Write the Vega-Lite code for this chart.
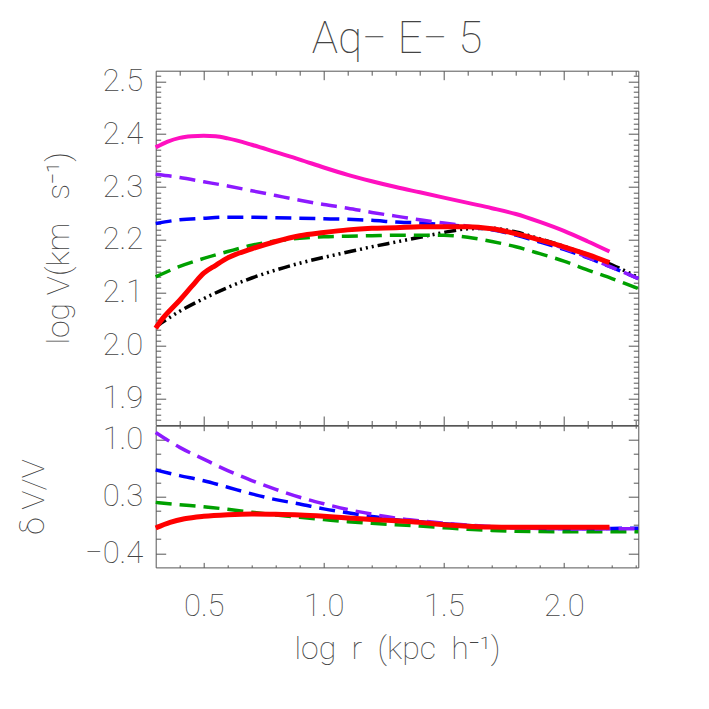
{
  "$schema": "https://vega.github.io/schema/vega-lite/v6.json",
  "autosize": {"type": "none"},
  "padding": {"left": 155.7, "top": 70.7, "right": 553.3, "bottom": 638.3},
  "background": "white",
  "bounds": "flush",
  "spacing": 0,
  "config": {
    "view": {"stroke": "#555", "strokeWidth": 1},
    "axis": {"grid": false, "domain": false, "labelFont": "Roboto", "labelFontSize": 31, "labelFontWeight": 100, "labelColor": "#444", "titleFont": "Roboto", "titleFontSize": 32, "titleFontWeight": 100, "titleColor": "#444", "tickColor": "#555", "tickWidth": 1, "labelFlush": false, "labelOverlap": false, "labelBound": false},
    "line": {"interpolate": "monotone", "clip": true}
  },
  "datasets": {
    "top": [
      {"s": "m", "x": 0.30, "y": 2.375}, {"s": "m", "x": 0.35, "y": 2.386}, {"s": "m", "x": 0.40, "y": 2.393}, {"s": "m", "x": 0.45, "y": 2.396}, {"s": "m", "x": 0.50, "y": 2.397}, {"s": "m", "x": 0.55, "y": 2.396}, {"s": "m", "x": 0.60, "y": 2.392}, {"s": "m", "x": 0.70, "y": 2.380}, {"s": "m", "x": 0.80, "y": 2.366}, {"s": "m", "x": 0.90, "y": 2.352}, {"s": "m", "x": 1.00, "y": 2.337}, {"s": "m", "x": 1.10, "y": 2.323}, {"s": "m", "x": 1.20, "y": 2.311}, {"s": "m", "x": 1.30, "y": 2.300}, {"s": "m", "x": 1.40, "y": 2.290}, {"s": "m", "x": 1.50, "y": 2.280}, {"s": "m", "x": 1.60, "y": 2.270}, {"s": "m", "x": 1.70, "y": 2.260}, {"s": "m", "x": 1.80, "y": 2.249}, {"s": "m", "x": 1.90, "y": 2.234}, {"s": "m", "x": 2.00, "y": 2.217}, {"s": "m", "x": 2.10, "y": 2.197}, {"s": "m", "x": 2.19, "y": 2.178},
      {"s": "p", "x": 0.30, "y": 2.324}, {"s": "p", "x": 0.40, "y": 2.318}, {"s": "p", "x": 0.50, "y": 2.310}, {"s": "p", "x": 0.60, "y": 2.302}, {"s": "p", "x": 0.70, "y": 2.293}, {"s": "p", "x": 0.80, "y": 2.284}, {"s": "p", "x": 0.90, "y": 2.275}, {"s": "p", "x": 1.00, "y": 2.267}, {"s": "p", "x": 1.10, "y": 2.260}, {"s": "p", "x": 1.20, "y": 2.252}, {"s": "p", "x": 1.30, "y": 2.245}, {"s": "p", "x": 1.40, "y": 2.238}, {"s": "p", "x": 1.50, "y": 2.232}, {"s": "p", "x": 1.60, "y": 2.226}, {"s": "p", "x": 1.70, "y": 2.220}, {"s": "p", "x": 1.80, "y": 2.211}, {"s": "p", "x": 1.90, "y": 2.199}, {"s": "p", "x": 2.00, "y": 2.184}, {"s": "p", "x": 2.10, "y": 2.167}, {"s": "p", "x": 2.20, "y": 2.148}, {"s": "p", "x": 2.31, "y": 2.127},
      {"s": "b", "x": 0.30, "y": 2.231}, {"s": "b", "x": 0.40, "y": 2.238}, {"s": "b", "x": 0.50, "y": 2.241}, {"s": "b", "x": 0.60, "y": 2.243}, {"s": "b", "x": 0.70, "y": 2.243}, {"s": "b", "x": 0.80, "y": 2.242}, {"s": "b", "x": 0.90, "y": 2.241}, {"s": "b", "x": 1.00, "y": 2.240}, {"s": "b", "x": 1.10, "y": 2.239}, {"s": "b", "x": 1.20, "y": 2.237}, {"s": "b", "x": 1.30, "y": 2.234}, {"s": "b", "x": 1.40, "y": 2.232}, {"s": "b", "x": 1.50, "y": 2.229}, {"s": "b", "x": 1.60, "y": 2.225}, {"s": "b", "x": 1.70, "y": 2.219}, {"s": "b", "x": 1.80, "y": 2.209}, {"s": "b", "x": 1.90, "y": 2.196}, {"s": "b", "x": 2.00, "y": 2.182}, {"s": "b", "x": 2.10, "y": 2.166}, {"s": "b", "x": 2.20, "y": 2.148}, {"s": "b", "x": 2.31, "y": 2.127},
      {"s": "g", "x": 0.30, "y": 2.130}, {"s": "g", "x": 0.40, "y": 2.150}, {"s": "g", "x": 0.50, "y": 2.165}, {"s": "g", "x": 0.60, "y": 2.178}, {"s": "g", "x": 0.70, "y": 2.190}, {"s": "g", "x": 0.80, "y": 2.198}, {"s": "g", "x": 0.90, "y": 2.203}, {"s": "g", "x": 1.00, "y": 2.206}, {"s": "g", "x": 1.10, "y": 2.207}, {"s": "g", "x": 1.20, "y": 2.208}, {"s": "g", "x": 1.30, "y": 2.209}, {"s": "g", "x": 1.40, "y": 2.209}, {"s": "g", "x": 1.50, "y": 2.209}, {"s": "g", "x": 1.60, "y": 2.205}, {"s": "g", "x": 1.70, "y": 2.197}, {"s": "g", "x": 1.80, "y": 2.187}, {"s": "g", "x": 1.90, "y": 2.174}, {"s": "g", "x": 2.00, "y": 2.160}, {"s": "g", "x": 2.10, "y": 2.143}, {"s": "g", "x": 2.20, "y": 2.127}, {"s": "g", "x": 2.31, "y": 2.108},
      {"s": "r", "x": 0.30, "y": 2.033}, {"s": "r", "x": 0.33, "y": 2.052}, {"s": "r", "x": 0.36, "y": 2.067}, {"s": "r", "x": 0.40, "y": 2.086}, {"s": "r", "x": 0.45, "y": 2.112}, {"s": "r", "x": 0.50, "y": 2.137}, {"s": "r", "x": 0.55, "y": 2.152}, {"s": "r", "x": 0.60, "y": 2.166}, {"s": "r", "x": 0.70, "y": 2.183}, {"s": "r", "x": 0.80, "y": 2.197}, {"s": "r", "x": 0.90, "y": 2.208}, {"s": "r", "x": 1.00, "y": 2.214}, {"s": "r", "x": 1.10, "y": 2.219}, {"s": "r", "x": 1.20, "y": 2.222}, {"s": "r", "x": 1.30, "y": 2.223}, {"s": "r", "x": 1.40, "y": 2.225}, {"s": "r", "x": 1.50, "y": 2.225}, {"s": "r", "x": 1.60, "y": 2.225}, {"s": "r", "x": 1.70, "y": 2.221}, {"s": "r", "x": 1.80, "y": 2.212}, {"s": "r", "x": 1.90, "y": 2.200}, {"s": "r", "x": 2.00, "y": 2.187}, {"s": "r", "x": 2.10, "y": 2.172}, {"s": "r", "x": 2.19, "y": 2.157},
      {"s": "k", "x": 0.30, "y": 2.036}, {"s": "k", "x": 0.40, "y": 2.065}, {"s": "k", "x": 0.50, "y": 2.089}, {"s": "k", "x": 0.60, "y": 2.110}, {"s": "k", "x": 0.70, "y": 2.128}, {"s": "k", "x": 0.80, "y": 2.143}, {"s": "k", "x": 0.90, "y": 2.156}, {"s": "k", "x": 1.00, "y": 2.167}, {"s": "k", "x": 1.10, "y": 2.177}, {"s": "k", "x": 1.20, "y": 2.187}, {"s": "k", "x": 1.30, "y": 2.196}, {"s": "k", "x": 1.40, "y": 2.205}, {"s": "k", "x": 1.50, "y": 2.214}, {"s": "k", "x": 1.60, "y": 2.221}, {"s": "k", "x": 1.70, "y": 2.222}, {"s": "k", "x": 1.80, "y": 2.215}, {"s": "k", "x": 1.90, "y": 2.202}, {"s": "k", "x": 2.00, "y": 2.188}, {"s": "k", "x": 2.10, "y": 2.172}, {"s": "k", "x": 2.20, "y": 2.153}, {"s": "k", "x": 2.31, "y": 2.129}
    ],
    "bot": [
      {"s": "p", "x": 0.30, "y": 1.092}, {"s": "p", "x": 0.40, "y": 0.907}, {"s": "p", "x": 0.50, "y": 0.762}, {"s": "p", "x": 0.60, "y": 0.621}, {"s": "p", "x": 0.70, "y": 0.498}, {"s": "p", "x": 0.80, "y": 0.389}, {"s": "p", "x": 0.90, "y": 0.291}, {"s": "p", "x": 1.00, "y": 0.211}, {"s": "p", "x": 1.10, "y": 0.140}, {"s": "p", "x": 1.20, "y": 0.083}, {"s": "p", "x": 1.30, "y": 0.035}, {"s": "p", "x": 1.40, "y": 0.000}, {"s": "p", "x": 1.50, "y": -0.028}, {"s": "p", "x": 1.60, "y": -0.053}, {"s": "p", "x": 1.70, "y": -0.072}, {"s": "p", "x": 1.80, "y": -0.086}, {"s": "p", "x": 1.90, "y": -0.094}, {"s": "p", "x": 2.00, "y": -0.099}, {"s": "p", "x": 2.10, "y": -0.100}, {"s": "p", "x": 2.20, "y": -0.099}, {"s": "p", "x": 2.31, "y": -0.097},
      {"s": "b", "x": 0.30, "y": 0.628}, {"s": "b", "x": 0.40, "y": 0.558}, {"s": "b", "x": 0.50, "y": 0.495}, {"s": "b", "x": 0.60, "y": 0.415}, {"s": "b", "x": 0.70, "y": 0.333}, {"s": "b", "x": 0.80, "y": 0.262}, {"s": "b", "x": 0.90, "y": 0.208}, {"s": "b", "x": 1.00, "y": 0.148}, {"s": "b", "x": 1.10, "y": 0.099}, {"s": "b", "x": 1.20, "y": 0.055}, {"s": "b", "x": 1.30, "y": 0.015}, {"s": "b", "x": 1.40, "y": -0.012}, {"s": "b", "x": 1.50, "y": -0.035}, {"s": "b", "x": 1.60, "y": -0.058}, {"s": "b", "x": 1.70, "y": -0.075}, {"s": "b", "x": 1.80, "y": -0.086}, {"s": "b", "x": 1.90, "y": -0.093}, {"s": "b", "x": 2.00, "y": -0.096}, {"s": "b", "x": 2.10, "y": -0.096}, {"s": "b", "x": 2.20, "y": -0.094}, {"s": "b", "x": 2.31, "y": -0.090},
      {"s": "g", "x": 0.30, "y": 0.228}, {"s": "g", "x": 0.40, "y": 0.200}, {"s": "g", "x": 0.50, "y": 0.175}, {"s": "g", "x": 0.60, "y": 0.142}, {"s": "g", "x": 0.70, "y": 0.106}, {"s": "g", "x": 0.80, "y": 0.072}, {"s": "g", "x": 0.90, "y": 0.043}, {"s": "g", "x": 1.00, "y": 0.016}, {"s": "g", "x": 1.10, "y": -0.010}, {"s": "g", "x": 1.20, "y": -0.030}, {"s": "g", "x": 1.30, "y": -0.048}, {"s": "g", "x": 1.40, "y": -0.064}, {"s": "g", "x": 1.50, "y": -0.085}, {"s": "g", "x": 1.60, "y": -0.105}, {"s": "g", "x": 1.70, "y": -0.118}, {"s": "g", "x": 1.80, "y": -0.128}, {"s": "g", "x": 1.90, "y": -0.133}, {"s": "g", "x": 2.00, "y": -0.134}, {"s": "g", "x": 2.10, "y": -0.134}, {"s": "g", "x": 2.20, "y": -0.134}, {"s": "g", "x": 2.31, "y": -0.134},
      {"s": "r", "x": 0.30, "y": -0.088}, {"s": "r", "x": 0.36, "y": -0.019}, {"s": "r", "x": 0.42, "y": 0.025}, {"s": "r", "x": 0.50, "y": 0.056}, {"s": "r", "x": 0.60, "y": 0.076}, {"s": "r", "x": 0.70, "y": 0.085}, {"s": "r", "x": 0.80, "y": 0.081}, {"s": "r", "x": 0.90, "y": 0.072}, {"s": "r", "x": 1.00, "y": 0.056}, {"s": "r", "x": 1.10, "y": 0.036}, {"s": "r", "x": 1.20, "y": 0.016}, {"s": "r", "x": 1.30, "y": 0.001}, {"s": "r", "x": 1.40, "y": -0.019}, {"s": "r", "x": 1.50, "y": -0.047}, {"s": "r", "x": 1.60, "y": -0.066}, {"s": "r", "x": 1.70, "y": -0.076}, {"s": "r", "x": 1.80, "y": -0.080}, {"s": "r", "x": 1.90, "y": -0.080}, {"s": "r", "x": 2.00, "y": -0.080}, {"s": "r", "x": 2.10, "y": -0.080}, {"s": "r", "x": 2.19, "y": -0.080}
    ]
  },
  "vconcat": [
    {
      "width": 482.6,
      "height": 354.3,
      "data": {"name": "top"},
      "title": {"text": "Aq−\u00a0E−\u00a05", "font": "Roboto", "fontSize": 44, "fontWeight": 100, "color": "#444", "baseline": "alphabetic", "offset": -32, "anchor": "middle"},
      "resolve": {"axis": {"x": "independent", "y": "independent"}},
      "layer": [
        {"transform": [{"filter": "datum.s == 'm'"}], "mark": {"type": "line", "color": "#ff10c0", "strokeWidth": 4}, "encoding": {"x": {"field": "x", "type": "quantitative", "scale": {"domain": [0.3, 2.31], "nice": false, "zero": false}, "axis": null}, "y": {"field": "y", "type": "quantitative", "scale": {"domain": [1.85, 2.52], "nice": false, "zero": false}, "axis": null}}},
        {"transform": [{"filter": "datum.s == 'k'"}], "mark": {"type": "line", "color": "#000000", "strokeWidth": 3.5, "strokeDash": [12, 4, 2, 4, 2, 4, 2, 4]}, "encoding": {"x": {"field": "x", "type": "quantitative", "scale": {"domain": [0.3, 2.31], "nice": false, "zero": false}, "axis": null}, "y": {"field": "y", "type": "quantitative", "scale": {"domain": [1.85, 2.52], "nice": false, "zero": false}, "axis": null}}},
        {"transform": [{"filter": "datum.s == 'g'"}], "mark": {"type": "line", "color": "#00a000", "strokeWidth": 3.5, "strokeDash": [16, 8]}, "encoding": {"x": {"field": "x", "type": "quantitative", "scale": {"domain": [0.3, 2.31], "nice": false, "zero": false}, "axis": null}, "y": {"field": "y", "type": "quantitative", "scale": {"domain": [1.85, 2.52], "nice": false, "zero": false}, "axis": null}}},
        {"transform": [{"filter": "datum.s == 'b'"}], "mark": {"type": "line", "color": "#0000ff", "strokeWidth": 3.5, "strokeDash": [16, 8]}, "encoding": {"x": {"field": "x", "type": "quantitative", "scale": {"domain": [0.3, 2.31], "nice": false, "zero": false}, "axis": null}, "y": {"field": "y", "type": "quantitative", "scale": {"domain": [1.85, 2.52], "nice": false, "zero": false}, "axis": null}}},
        {"transform": [{"filter": "datum.s == 'p'"}], "mark": {"type": "line", "color": "#8c1aff", "strokeWidth": 3.5, "strokeDash": [16, 8]}, "encoding": {"x": {"field": "x", "type": "quantitative", "scale": {"domain": [0.3, 2.31], "nice": false, "zero": false}, "axis": null}, "y": {"field": "y", "type": "quantitative", "scale": {"domain": [1.85, 2.52], "nice": false, "zero": false}, "axis": null}}},
        {"transform": [{"filter": "datum.s == 'r'"}], "mark": {"type": "line", "color": "#ff0000", "strokeWidth": 5}, "encoding": {"x": {"field": "x", "type": "quantitative", "scale": {"domain": [0.3, 2.31], "nice": false, "zero": false}, "axis": null}, "y": {"field": "y", "type": "quantitative", "scale": {"domain": [1.85, 2.52], "nice": false, "zero": false}, "axis": null}}},
        {"mark": {"type": "point", "opacity": 0}, "encoding": {
          "x": {"field": "x", "type": "quantitative", "scale": {"domain": [0.3, 2.31], "nice": false, "zero": false}, "axis": null},
          "y": {"field": "y", "type": "quantitative", "scale": {"domain": [1.85, 2.52], "nice": false, "zero": false}, "axis": {"orient": "left", "values": [1.9, 2.0, 2.1, 2.2, 2.3, 2.4, 2.5], "format": ".1f", "ticks": false, "labelPadding": 13, "title": "log\u00a0V(km\u00a0\u00a0\u00a0s⁻¹)", "titlePadding": 27}}}},
        {"mark": {"type": "point", "opacity": 0}, "encoding": {
          "x": {"field": "x", "type": "quantitative", "scale": {"domain": [0.3, 2.31], "nice": false, "zero": false}, "axis": {"orient": "bottom", "values": [0.5, 1.0, 1.5, 2.0], "labels": false, "tickSize": -9, "title": null}},
          "y": {"field": "y", "type": "quantitative", "scale": {"domain": [1.85, 2.52], "nice": false, "zero": false}, "axis": {"orient": "left", "values": [1.9, 2.0, 2.1, 2.2, 2.3, 2.4, 2.5], "labels": false, "tickSize": -10, "title": null}}}},
        {"mark": {"type": "point", "opacity": 0}, "encoding": {
          "x": {"field": "x", "type": "quantitative", "scale": {"domain": [0.3, 2.31], "nice": false, "zero": false}, "axis": {"orient": "bottom", "values": [0.4, 0.6, 0.7, 0.8, 0.9, 1.1, 1.2, 1.3, 1.4, 1.6, 1.7, 1.8, 1.9, 2.1, 2.2, 2.3], "labels": false, "tickSize": -4.5, "title": null}},
          "y": {"field": "y", "type": "quantitative", "scale": {"domain": [1.85, 2.52], "nice": false, "zero": false}, "axis": {"orient": "left", "values": [1.86, 1.87, 1.88, 1.89, 1.91, 1.92, 1.93, 1.94, 1.95, 1.96, 1.97, 1.98, 1.99, 2.01, 2.02, 2.03, 2.04, 2.05, 2.06, 2.07, 2.08, 2.09, 2.11, 2.12, 2.13, 2.14, 2.15, 2.16, 2.17, 2.18, 2.19, 2.21, 2.22, 2.23, 2.24, 2.25, 2.26, 2.27, 2.28, 2.29, 2.31, 2.32, 2.33, 2.34, 2.35, 2.36, 2.37, 2.38, 2.39, 2.41, 2.42, 2.43, 2.44, 2.45, 2.46, 2.47, 2.48, 2.49, 2.51], "labels": false, "tickSize": -5, "title": null}}}},
        {"mark": {"type": "point", "opacity": 0}, "encoding": {
          "x": {"field": "x", "type": "quantitative", "scale": {"domain": [0.3, 2.31], "nice": false, "zero": false}, "axis": {"orient": "top", "values": [0.5, 1.0, 1.5, 2.0], "labels": false, "tickSize": -9, "title": null}},
          "y": {"field": "y", "type": "quantitative", "scale": {"domain": [1.85, 2.52], "nice": false, "zero": false}, "axis": {"orient": "right", "values": [1.9, 2.0, 2.1, 2.2, 2.3, 2.4, 2.5], "labels": false, "tickSize": -10, "title": null}}}},
        {"mark": {"type": "point", "opacity": 0}, "encoding": {
          "x": {"field": "x", "type": "quantitative", "scale": {"domain": [0.3, 2.31], "nice": false, "zero": false}, "axis": {"orient": "top", "values": [0.4, 0.6, 0.7, 0.8, 0.9, 1.1, 1.2, 1.3, 1.4, 1.6, 1.7, 1.8, 1.9, 2.1, 2.2, 2.3], "labels": false, "tickSize": -4.5, "title": null}},
          "y": {"field": "y", "type": "quantitative", "scale": {"domain": [1.85, 2.52], "nice": false, "zero": false}, "axis": {"orient": "right", "values": [1.86, 1.87, 1.88, 1.89, 1.91, 1.92, 1.93, 1.94, 1.95, 1.96, 1.97, 1.98, 1.99, 2.01, 2.02, 2.03, 2.04, 2.05, 2.06, 2.07, 2.08, 2.09, 2.11, 2.12, 2.13, 2.14, 2.15, 2.16, 2.17, 2.18, 2.19, 2.21, 2.22, 2.23, 2.24, 2.25, 2.26, 2.27, 2.28, 2.29, 2.31, 2.32, 2.33, 2.34, 2.35, 2.36, 2.37, 2.38, 2.39, 2.41, 2.42, 2.43, 2.44, 2.45, 2.46, 2.47, 2.48, 2.49, 2.51], "labels": false, "tickSize": -5, "title": null}}}}
      ]
    },
    {
      "width": 482.6,
      "height": 141.7,
      "data": {"name": "bot"},
      "resolve": {"axis": {"x": "independent", "y": "independent"}},
      "layer": [
        {"transform": [{"filter": "datum.s == 'g'"}], "mark": {"type": "line", "color": "#00a000", "strokeWidth": 3.5, "strokeDash": [16, 8]}, "encoding": {"x": {"field": "x", "type": "quantitative", "scale": {"domain": [0.3, 2.31], "nice": false, "zero": false}, "axis": null}, "y": {"field": "y", "type": "quantitative", "scale": {"domain": [-0.575, 1.175], "nice": false, "zero": false}, "axis": null}}},
        {"transform": [{"filter": "datum.s == 'b'"}], "mark": {"type": "line", "color": "#0000ff", "strokeWidth": 3.5, "strokeDash": [16, 8]}, "encoding": {"x": {"field": "x", "type": "quantitative", "scale": {"domain": [0.3, 2.31], "nice": false, "zero": false}, "axis": null}, "y": {"field": "y", "type": "quantitative", "scale": {"domain": [-0.575, 1.175], "nice": false, "zero": false}, "axis": null}}},
        {"transform": [{"filter": "datum.s == 'p'"}], "mark": {"type": "line", "color": "#8c1aff", "strokeWidth": 3.5, "strokeDash": [16, 8]}, "encoding": {"x": {"field": "x", "type": "quantitative", "scale": {"domain": [0.3, 2.31], "nice": false, "zero": false}, "axis": null}, "y": {"field": "y", "type": "quantitative", "scale": {"domain": [-0.575, 1.175], "nice": false, "zero": false}, "axis": null}}},
        {"transform": [{"filter": "datum.s == 'r'"}], "mark": {"type": "line", "color": "#ff0000", "strokeWidth": 5}, "encoding": {"x": {"field": "x", "type": "quantitative", "scale": {"domain": [0.3, 2.31], "nice": false, "zero": false}, "axis": null}, "y": {"field": "y", "type": "quantitative", "scale": {"domain": [-0.575, 1.175], "nice": false, "zero": false}, "axis": null}}},
        {"mark": {"type": "point", "opacity": 0}, "encoding": {
          "x": {"field": "x", "type": "quantitative", "scale": {"domain": [0.3, 2.31], "nice": false, "zero": false}, "axis": {"orient": "bottom", "values": [0.5, 1.0, 1.5, 2.0], "format": ".1f", "ticks": false, "labelPadding": 24, "title": "log\u00a0\u00a0r\u00a0\u00a0(kpc\u00a0\u00a0h⁻¹)", "titlePadding": 12}},
          "y": {"field": "y", "type": "quantitative", "scale": {"domain": [-0.575, 1.175], "nice": false, "zero": false}, "axis": {"orient": "left", "values": [1.0, 0.3, -0.4], "format": ".1f", "ticks": false, "labelPadding": 13, "title": "δ\u00a0V/V", "titlePadding": 34}}}},
        {"mark": {"type": "point", "opacity": 0}, "encoding": {
          "x": {"field": "x", "type": "quantitative", "scale": {"domain": [0.3, 2.31], "nice": false, "zero": false}, "axis": {"orient": "bottom", "values": [0.5, 1.0, 1.5, 2.0], "labels": false, "tickSize": -5, "title": null}},
          "y": {"field": "y", "type": "quantitative", "scale": {"domain": [-0.575, 1.175], "nice": false, "zero": false}, "axis": {"orient": "left", "values": [1.0, 0.3, -0.4], "labels": false, "tickSize": -10, "title": null}}}},
        {"mark": {"type": "point", "opacity": 0}, "encoding": {
          "x": {"field": "x", "type": "quantitative", "scale": {"domain": [0.3, 2.31], "nice": false, "zero": false}, "axis": {"orient": "bottom", "values": [0.4, 0.6, 0.7, 0.8, 0.9, 1.1, 1.2, 1.3, 1.4, 1.6, 1.7, 1.8, 1.9, 2.1, 2.2, 2.3], "labels": false, "tickSize": -2.5, "title": null}},
          "y": {"field": "y", "type": "quantitative", "scale": {"domain": [-0.575, 1.175], "nice": false, "zero": false}, "axis": {"orient": "left", "values": [0.825, 0.65, 0.475, 0.125, -0.05, -0.225], "labels": false, "tickSize": -5, "title": null}}}},
        {"mark": {"type": "point", "opacity": 0}, "encoding": {
          "x": {"field": "x", "type": "quantitative", "scale": {"domain": [0.3, 2.31], "nice": false, "zero": false}, "axis": {"orient": "top", "values": [0.5, 1.0, 1.5, 2.0], "labels": false, "tickSize": -5, "title": null}},
          "y": {"field": "y", "type": "quantitative", "scale": {"domain": [-0.575, 1.175], "nice": false, "zero": false}, "axis": {"orient": "right", "values": [1.0, 0.3, -0.4], "labels": false, "tickSize": -10, "title": null}}}},
        {"mark": {"type": "point", "opacity": 0}, "encoding": {
          "x": {"field": "x", "type": "quantitative", "scale": {"domain": [0.3, 2.31], "nice": false, "zero": false}, "axis": {"orient": "top", "values": [0.4, 0.6, 0.7, 0.8, 0.9, 1.1, 1.2, 1.3, 1.4, 1.6, 1.7, 1.8, 1.9, 2.1, 2.2, 2.3], "labels": false, "tickSize": -2.5, "title": null}},
          "y": {"field": "y", "type": "quantitative", "scale": {"domain": [-0.575, 1.175], "nice": false, "zero": false}, "axis": {"orient": "right", "values": [0.825, 0.65, 0.475, 0.125, -0.05, -0.225], "labels": false, "tickSize": -5, "title": null}}}}
      ]
    }
  ]
}
